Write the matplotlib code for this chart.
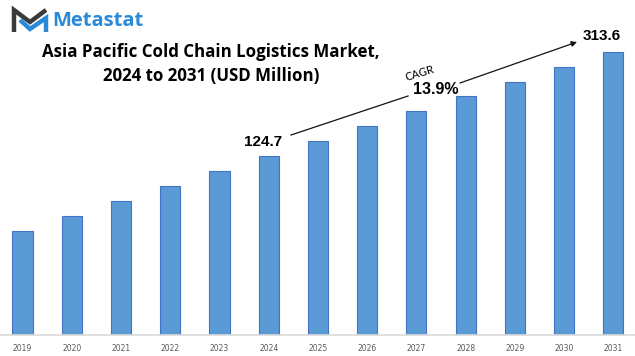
import matplotlib
matplotlib.use("Agg")
import matplotlib.pyplot as plt

# bar heights as drawn (index units, baseline = 0)
years = ["2019", "2020", "2021", "2022", "2023", "2024", "2025",
         "2026", "2027", "2028", "2029", "2030", "2031"]
bar_heights = [104, 119, 134, 149, 164, 179, 194, 209, 224, 239, 253, 268, 283]
start_label = "124.7"
end_label = "313.6"
cagr_value = "13.9%"

W, H = 635, 356
fig = plt.figure(figsize=(W / 100, H / 100), dpi=100)

base = 335.3
ax = fig.add_axes([0, (H - base) / H, 1, base / H])
x = list(range(len(years)))
ax.bar(x, bar_heights, width=0.41, color="#5B9BD5", edgecolor="#4472C4", linewidth=0.8, zorder=2)
ax.set_xlim(-0.457, 12.44)
ax.set_ylim(0, base)
ax.set_xticks(x)
ax.set_xticklabels(years, fontsize=5.5, color="#595959")
ax.tick_params(axis="x", length=0, pad=6)
ax.set_yticks([])
for s in ["top", "left", "right"]:
    ax.spines[s].set_visible(False)
ax.spines["bottom"].set_color("#D9D9D9")
ax.spines["bottom"].set_linewidth(1.2)

# value labels
ax.annotate(start_label, (5, bar_heights[5]), xytext=(-4, 5), textcoords="offset points",
            ha="center", va="bottom", fontsize=11, fontweight="bold", family="Liberation Sans")
ax.annotate(end_label, (12, bar_heights[12]), xytext=(-8, 7), textcoords="offset points",
            ha="center", va="bottom", fontsize=11, fontweight="bold", family="Liberation Sans")

# overlay in pixel coordinates for logo, title, cagr arrow
ov = fig.add_axes([0, 0, 1, 1], facecolor="none")
ov.set_xlim(0, W)
ov.set_ylim(H, 0)
ov.axis("off")

# logo icon
ov.plot([14, 14, 30, 46], [32, 10, 22, 10], color="#3a3a3a", lw=3.2, solid_joinstyle="miter",
        solid_capstyle="butt")
ov.plot([20, 30, 46, 46], [20, 29, 18, 32], color="#2a8ad8", lw=3.2, solid_joinstyle="miter",
        solid_capstyle="butt")
ov.text(52, 21, "Metastat", fontsize=14.5, fontweight="bold", color="#2a8ad8",
        family="Open Sans", va="center", ha="left")

# title
ov.text(211, 64, "Asia Pacific Cold Chain Logistics Market,\n2024 to 2031 (USD Million)",
        ha="center", va="center", fontsize=12.2, fontweight="bold", family="Open Sans",
        linespacing=1.4, color="#000000")

# cagr arrow, broken around the labels
ov.plot([291, 408], [135, 96], color="#111111", lw=0.9)
ov.annotate("", xy=(577, 42), xytext=(460, 83),
            arrowprops=dict(arrowstyle="-|>", color="#111111", lw=0.9, mutation_scale=8,
                            shrinkA=0, shrinkB=0))
ov.text(436, 90, cagr_value, ha="center", va="center", fontsize=11.5, fontweight="bold",
        family="Liberation Sans")
ov.text(420, 73, "CAGR", ha="center", va="center", fontsize=8, rotation=17, family="Lato")

fig.savefig("out.png", dpi=100)
